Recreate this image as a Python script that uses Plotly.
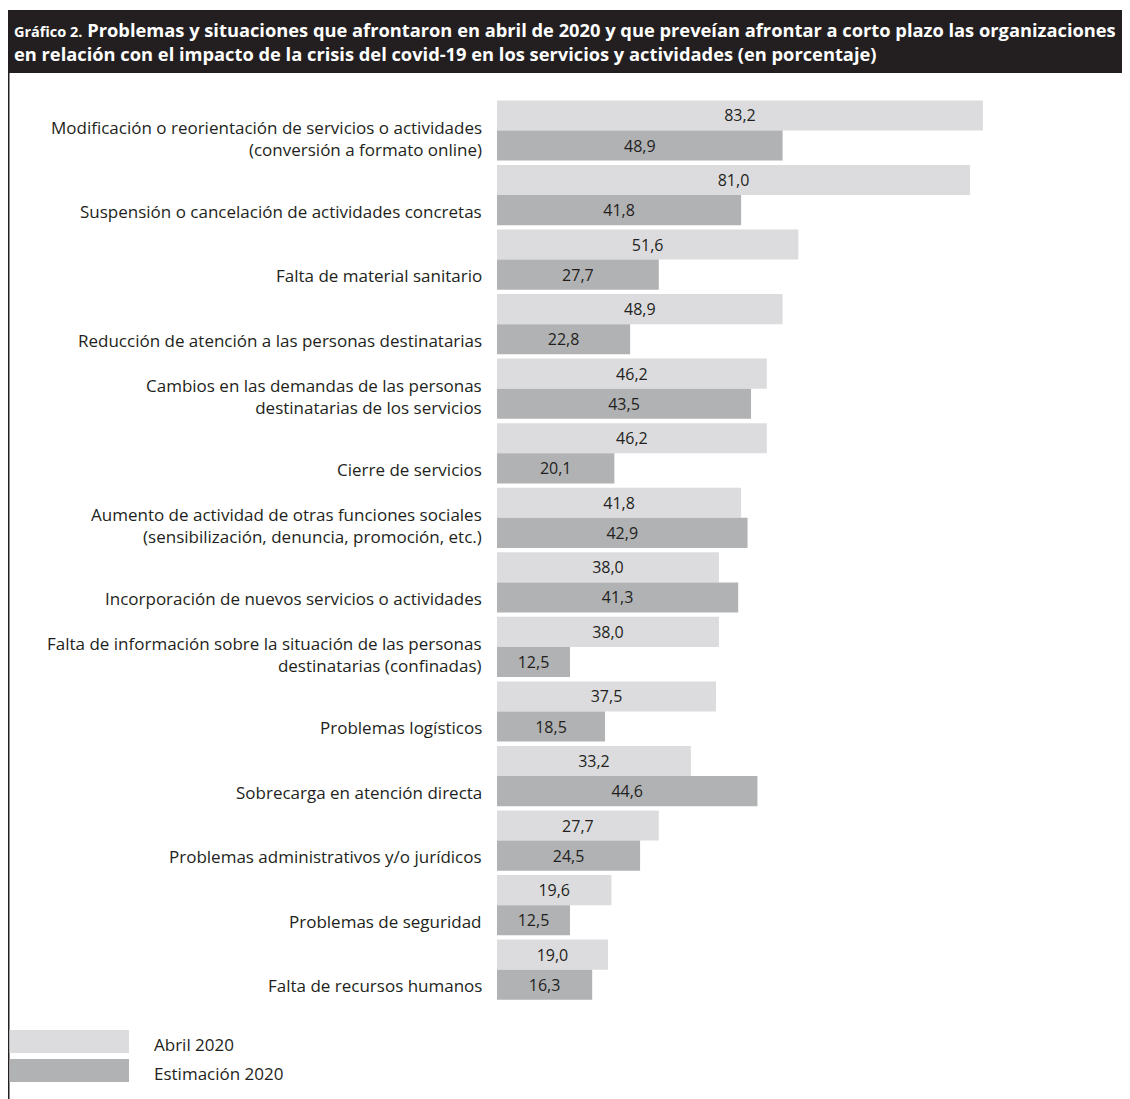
import plotly.graph_objects as go

categories = [
    "Modificación o reorientación de servicios o actividades<br>(conversión a formato online)",
    "Suspensión o cancelación de actividades concretas",
    "Falta de material sanitario",
    "Reducción de atención a las personas destinatarias",
    "Cambios en las demandas de las personas<br>destinatarias de los servicios",
    "Cierre de servicios",
    "Aumento de actividad de otras funciones sociales<br>(sensibilización, denuncia, promoción, etc.)",
    "Incorporación de nuevos servicios o actividades",
    "Falta de información sobre la situación de las personas<br>destinatarias (confinadas)",
    "Problemas logísticos",
    "Sobrecarga en atención directa",
    "Problemas administrativos y/o jurídicos",
    "Problemas de seguridad",
    "Falta de recursos humanos",
]
abril_2020 = [83.2, 81.0, 51.6, 48.9, 46.2, 46.2, 41.8, 38.0, 38.0, 37.5, 33.2, 27.7, 19.6, 19.0]
estimacion_2020 = [48.9, 41.8, 27.7, 22.8, 43.5, 20.1, 42.9, 41.3, 12.5, 18.5, 44.6, 24.5, 12.5, 16.3]
series_names = ["Abril 2020", "Estimación 2020"]
title_prefix = "Gráfico 2."
title_lines = [
    "Problemas y situaciones que afrontaron en abril de 2020 y que preveían afrontar a corto plazo las organizaciones",
    "en relación con el impacto de la crisis del covid-19 en los servicios y actividades (en porcentaje)",
]

OFF = 8  # page body margin
W, H = 1130 - OFF, 1099 - OFF
L, R, T, B = 497 - OFF, 0, 98 - OFF, 1099 - 1002
PW, PH = W - L - R, H - T - B
LIGHT, DARK, INK = "#dcdcde", "#b1b2b4", "#231f20"
FONT = "Open Sans"

def px_x(p):
    return (p - OFF - L) / PW

def px_y(p):
    return (H - B - (p - OFF)) / PH

def fmt(v):
    return f"{v:.1f}".replace(".", ",")

fig = go.Figure()
for name, vals, col in [(series_names[0], abril_2020, LIGHT), (series_names[1], estimacion_2020, DARK)]:
    fig.add_trace(go.Bar(
        y=categories, x=vals, orientation="h", name=name,
        marker=dict(color=col, line=dict(width=0)),
        text=[fmt(v) for v in vals], textposition="inside",
        insidetextanchor="middle", textangle=0,
        textfont=dict(family=FONT, size=16, color=INK),
        showlegend=False,
    ))

annotations = []
for c in categories:
    two = "<br>" in c
    annotations.append(dict(
        x=0, y=c, xref="x", yref="y", text=c, showarrow=False,
        xanchor="right", yanchor="middle", align="right",
        xshift=-13, yshift=-8 if two else -16,
        font=dict(family=FONT, size=17, color=INK),
    ))

# title (two lines in one text)
annotations.append(dict(
    x=px_x(12), y=px_y(42), xref="paper", yref="paper",
    text=(f"<span style='font-size:14.5px'><b>{title_prefix}</b></span> <b>{title_lines[0]}</b>"
          f"<br><b>{title_lines[1]}</b>"),
    showarrow=False, xanchor="left", yanchor="middle", align="left",
    font=dict(family=FONT, size=18.3, color="white"),
))

shapes = [
    dict(type="rect", xref="paper", yref="paper", x0=px_x(7), x1=px_x(1130), y0=px_y(73), y1=px_y(10),
         fillcolor=INK, line=dict(width=0), layer="below"),
    dict(type="line", xref="paper", yref="paper", x0=px_x(8.75), x1=px_x(8.75), y0=px_y(73), y1=px_y(1099),
         line=dict(color=INK, width=1.5)),
]

# legend
for i, (name, col) in enumerate(zip(series_names, [LIGHT, DARK])):
    top = 1030 + i * 29
    shapes.append(dict(type="rect", xref="paper", yref="paper", x0=px_x(9.5), x1=px_x(129),
                       y0=px_y(top + 23), y1=px_y(top), fillcolor=col, line=dict(width=0)))
    annotations.append(dict(x=px_x(152), y=px_y(top + 14), xref="paper", yref="paper", text=name,
                            showarrow=False, xanchor="left", yanchor="middle",
                            font=dict(family=FONT, size=17, color=INK)))

fig.update_layout(
    width=W, height=H,
    margin=dict(l=L, r=R, t=T, b=B),
    paper_bgcolor="white", plot_bgcolor="white",
    barmode="group", bargap=0.067, bargroupgap=0,
    xaxis=dict(range=[0, PW / 5.84], visible=False, fixedrange=True),
    yaxis=dict(autorange="reversed", showticklabels=False, showgrid=False, zeroline=False,
               showline=False, ticks="", fixedrange=True),
    shapes=shapes, annotations=annotations,
    font=dict(family=FONT, color=INK),
)

fig.write_html("out.html")
